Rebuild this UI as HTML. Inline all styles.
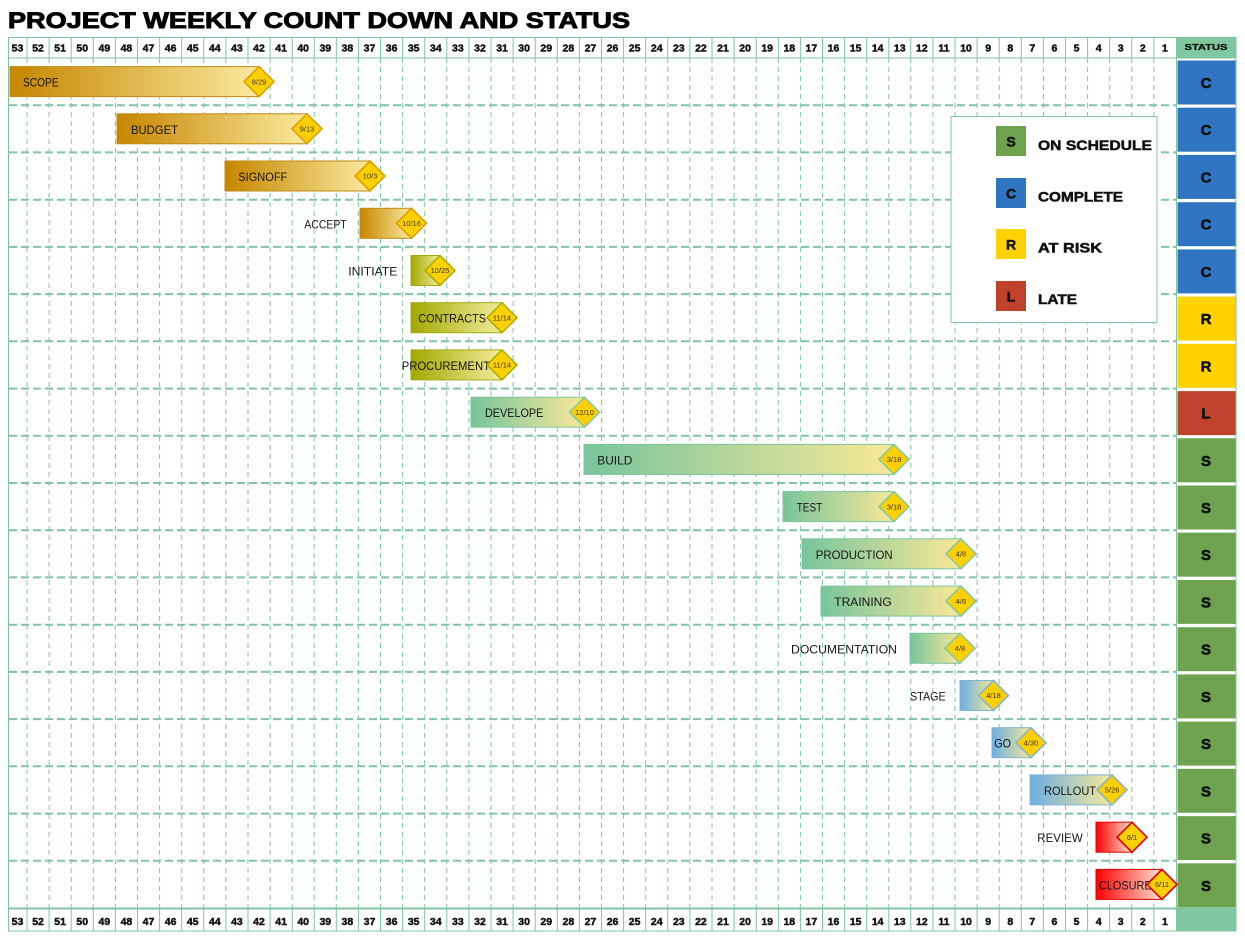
<!DOCTYPE html>
<html>
<head>
<meta charset="utf-8">
<style>
html,body{margin:0;padding:0;background:#fff;}
svg{display:block;}
.hn{font-family:"Liberation Sans",sans-serif;font-weight:bold;font-size:10.5px;fill:#111;stroke:#111;stroke-width:0.45;text-anchor:middle;}
.lb{font-family:"Liberation Sans",sans-serif;font-size:12px;fill:#151515;}
.dt{font-family:"Liberation Sans",sans-serif;font-size:7.5px;fill:#333;text-anchor:middle;}
.st{font-family:"Liberation Sans",sans-serif;font-weight:bold;font-size:15px;fill:#111;stroke:#111;stroke-width:0.6;text-anchor:middle;}
.lg{font-family:"Liberation Sans",sans-serif;font-weight:bold;font-size:14px;fill:#111;stroke:#111;stroke-width:0.5;}
</style>
</head>
<body>
<svg width="1245" height="940" viewBox="0 0 1245 940" xmlns="http://www.w3.org/2000/svg">
<defs>
<linearGradient id="gGold" x1="0" y1="0" x2="1" y2="0"><stop offset="0" stop-color="#c68600"/><stop offset="1" stop-color="#fbe99e"/></linearGradient>
<linearGradient id="gOlive" x1="0" y1="0" x2="1" y2="0"><stop offset="0" stop-color="#a2a800"/><stop offset="1" stop-color="#f4ed9e"/></linearGradient>
<linearGradient id="gGreen" x1="0" y1="0" x2="1" y2="0"><stop offset="0" stop-color="#78c59c"/><stop offset="1" stop-color="#f8e898"/></linearGradient>
<linearGradient id="gBlue" x1="0" y1="0" x2="1" y2="0"><stop offset="0" stop-color="#6caee2"/><stop offset="1" stop-color="#f6e998"/></linearGradient>
<linearGradient id="gRed" x1="0" y1="0" x2="1" y2="0"><stop offset="0" stop-color="#ff0000"/><stop offset="1" stop-color="#ffe2d4"/></linearGradient>
</defs>

<!-- Title -->
<text x="8" y="28" font-family="Liberation Sans, sans-serif" font-weight="bold" font-size="22.5" fill="#000" stroke="#000" stroke-width="0.9" textLength="622" lengthAdjust="spacingAndGlyphs">PROJECT WEEKLY COUNT DOWN AND STATUS</text>

<!-- Status header and footer fills -->
<rect x="1177" y="37.5" width="59" height="20.5" fill="#80c8a0"/>
<rect x="1177" y="909" width="59" height="22" fill="#80c8a0"/>

<!-- Body vertical dashed lines -->
<path fill="none" stroke="#80c4a4" stroke-width="1" stroke-dasharray="5,4" d="M27 58V908 M49.1 58V908 M71.2 58V908 M93.3 58V908 M115.4 58V908 M137.5 58V908 M159.6 58V908 M181.7 58V908 M203.8 58V908 M225.9 58V908 M248 58V908 M270.1 58V908 M292.2 58V908 M314.2 58V908 M336.3 58V908 M358.4 58V908 M380.5 58V908 M402.6 58V908 M424.7 58V908 M446.8 58V908 M468.9 58V908 M491 58V908 M513.1 58V908 M535.2 58V908 M557.3 58V908 M579.4 58V908 M601.5 58V908 M623.6 58V908 M645.7 58V908 M667.8 58V908 M689.9 58V908 M712 58V908 M734.1 58V908 M756.2 58V908 M778.3 58V908 M800.4 58V908 M822.5 58V908 M844.6 58V908 M866.7 58V908 M888.8 58V908 M910.8 58V908 M932.9 58V908 M955 58V908 M977.1 58V908 M999.2 58V908 M1021.3 58V908 M1043.4 58V908 M1065.5 58V908 M1087.6 58V908 M1109.7 58V908 M1131.8 58V908 M1153.9 58V908"/>

<!-- Header vertical solid lines -->
<path fill="none" stroke="#80c4a4" stroke-width="1" d="M27 37.5V58 M49.1 37.5V58 M71.2 37.5V58 M93.3 37.5V58 M115.4 37.5V58 M137.5 37.5V58 M159.6 37.5V58 M181.7 37.5V58 M203.8 37.5V58 M225.9 37.5V58 M248 37.5V58 M270.1 37.5V58 M292.2 37.5V58 M314.2 37.5V58 M336.3 37.5V58 M358.4 37.5V58 M380.5 37.5V58 M402.6 37.5V58 M424.7 37.5V58 M446.8 37.5V58 M468.9 37.5V58 M491 37.5V58 M513.1 37.5V58 M535.2 37.5V58 M557.3 37.5V58 M579.4 37.5V58 M601.5 37.5V58 M623.6 37.5V58 M645.7 37.5V58 M667.8 37.5V58 M689.9 37.5V58 M712 37.5V58 M734.1 37.5V58 M756.2 37.5V58 M778.3 37.5V58 M800.4 37.5V58 M822.5 37.5V58 M844.6 37.5V58 M866.7 37.5V58 M888.8 37.5V58 M910.8 37.5V58 M932.9 37.5V58 M955 37.5V58 M977.1 37.5V58 M999.2 37.5V58 M1021.3 37.5V58 M1043.4 37.5V58 M1065.5 37.5V58 M1087.6 37.5V58 M1109.7 37.5V58 M1131.8 37.5V58 M1153.9 37.5V58
M27 909V931 M49.1 909V931 M71.2 909V931 M93.3 909V931 M115.4 909V931 M137.5 909V931 M159.6 909V931 M181.7 909V931 M203.8 909V931 M225.9 909V931 M248 909V931 M270.1 909V931 M292.2 909V931 M314.2 909V931 M336.3 909V931 M358.4 909V931 M380.5 909V931 M402.6 909V931 M424.7 909V931 M446.8 909V931 M468.9 909V931 M491 909V931 M513.1 909V931 M535.2 909V931 M557.3 909V931 M579.4 909V931 M601.5 909V931 M623.6 909V931 M645.7 909V931 M667.8 909V931 M689.9 909V931 M712 909V931 M734.1 909V931 M756.2 909V931 M778.3 909V931 M800.4 909V931 M822.5 909V931 M844.6 909V931 M866.7 909V931 M888.8 909V931 M910.8 909V931 M932.9 909V931 M955 909V931 M977.1 909V931 M999.2 909V931 M1021.3 909V931 M1043.4 909V931 M1065.5 909V931 M1087.6 909V931 M1109.7 909V931 M1131.8 909V931 M1153.9 909V931
M8.5 37.5V931 M1176.5 37.5V931 M1236 37.5V931
M8 37.5H1236 M8 58H1236 M8 909H1236 M8 931H1236"/>

<!-- Row separators -->
<path fill="none" stroke="#80c4a4" stroke-width="2" stroke-dasharray="8,4" d="M9 105.2H1176 M9 152.4H1176 M9 199.7H1176 M9 246.9H1176 M9 294.1H1176 M9 341.3H1176 M9 388.6H1176 M9 435.8H1176 M9 483H1176 M9 530.2H1176 M9 577.4H1176 M9 624.7H1176 M9 671.9H1176 M9 719.1H1176 M9 766.3H1176 M9 813.6H1176 M9 860.8H1176"/>
<path fill="none" stroke="#80c4a4" stroke-width="1" d="M8 908H1236"/>

<!-- Header numbers top -->
<g class="hn">
<text x="17.5" y="51.5">53</text><text x="38.05" y="51.5">52</text><text x="60.15" y="51.5">51</text><text x="82.24" y="51.5">50</text><text x="104.34" y="51.5">49</text><text x="126.43" y="51.5">48</text><text x="148.53" y="51.5">47</text><text x="170.62" y="51.5">46</text><text x="192.72" y="51.5">45</text><text x="214.81" y="51.5">44</text><text x="236.91" y="51.5">43</text><text x="259.01" y="51.5">42</text><text x="281.1" y="51.5">41</text><text x="303.2" y="51.5">40</text><text x="325.29" y="51.5">39</text><text x="347.39" y="51.5">38</text><text x="369.48" y="51.5">37</text><text x="391.58" y="51.5">36</text><text x="413.68" y="51.5">35</text><text x="435.77" y="51.5">34</text><text x="457.87" y="51.5">33</text><text x="479.96" y="51.5">32</text><text x="502.06" y="51.5">31</text><text x="524.15" y="51.5">30</text><text x="546.25" y="51.5">29</text><text x="568.34" y="51.5">28</text><text x="590.44" y="51.5">27</text><text x="612.54" y="51.5">26</text><text x="634.63" y="51.5">25</text><text x="656.73" y="51.5">24</text><text x="678.82" y="51.5">23</text><text x="700.92" y="51.5">22</text><text x="723.01" y="51.5">21</text><text x="745.11" y="51.5">20</text><text x="767.2" y="51.5">19</text><text x="789.3" y="51.5">18</text><text x="811.4" y="51.5">17</text><text x="833.49" y="51.5">16</text><text x="855.59" y="51.5">15</text><text x="877.68" y="51.5">14</text><text x="899.78" y="51.5">13</text><text x="921.87" y="51.5">12</text><text x="943.97" y="51.5">11</text><text x="966.06" y="51.5">10</text><text x="988.16" y="51.5">9</text><text x="1010.26" y="51.5">8</text><text x="1032.35" y="51.5">7</text><text x="1054.45" y="51.5">6</text><text x="1076.54" y="51.5">5</text><text x="1098.64" y="51.5">4</text><text x="1120.73" y="51.5">3</text><text x="1142.83" y="51.5">2</text><text x="1164.92" y="51.5">1</text>
</g>
<!-- Header numbers bottom -->
<g class="hn">
<text x="17.5" y="925">53</text><text x="38.05" y="925">52</text><text x="60.15" y="925">51</text><text x="82.24" y="925">50</text><text x="104.34" y="925">49</text><text x="126.43" y="925">48</text><text x="148.53" y="925">47</text><text x="170.62" y="925">46</text><text x="192.72" y="925">45</text><text x="214.81" y="925">44</text><text x="236.91" y="925">43</text><text x="259.01" y="925">42</text><text x="281.1" y="925">41</text><text x="303.2" y="925">40</text><text x="325.29" y="925">39</text><text x="347.39" y="925">38</text><text x="369.48" y="925">37</text><text x="391.58" y="925">36</text><text x="413.68" y="925">35</text><text x="435.77" y="925">34</text><text x="457.87" y="925">33</text><text x="479.96" y="925">32</text><text x="502.06" y="925">31</text><text x="524.15" y="925">30</text><text x="546.25" y="925">29</text><text x="568.34" y="925">28</text><text x="590.44" y="925">27</text><text x="612.54" y="925">26</text><text x="634.63" y="925">25</text><text x="656.73" y="925">24</text><text x="678.82" y="925">23</text><text x="700.92" y="925">22</text><text x="723.01" y="925">21</text><text x="745.11" y="925">20</text><text x="767.2" y="925">19</text><text x="789.3" y="925">18</text><text x="811.4" y="925">17</text><text x="833.49" y="925">16</text><text x="855.59" y="925">15</text><text x="877.68" y="925">14</text><text x="899.78" y="925">13</text><text x="921.87" y="925">12</text><text x="943.97" y="925">11</text><text x="966.06" y="925">10</text><text x="988.16" y="925">9</text><text x="1010.26" y="925">8</text><text x="1032.35" y="925">7</text><text x="1054.45" y="925">6</text><text x="1076.54" y="925">5</text><text x="1098.64" y="925">4</text><text x="1120.73" y="925">3</text><text x="1142.83" y="925">2</text><text x="1164.92" y="925">1</text>
</g>
<text x="1206" y="50" font-family="Liberation Sans, sans-serif" font-weight="bold" font-size="8.5" fill="#111" stroke="#111" stroke-width="0.3" text-anchor="middle" textLength="43" lengthAdjust="spacingAndGlyphs">STATUS</text>

<!-- Status blocks -->
<g>
<rect x="1177.5" y="60.5" width="58" height="44" fill="#2f75c1"/>
<rect x="1177.5" y="107.7" width="58" height="44" fill="#2f75c1"/>
<rect x="1177.5" y="154.9" width="58" height="44" fill="#2f75c1"/>
<rect x="1177.5" y="202.2" width="58" height="44" fill="#2f75c1"/>
<rect x="1177.5" y="249.4" width="58" height="44" fill="#2f75c1"/>
<rect x="1177.5" y="296.6" width="58" height="44" fill="#ffd200"/>
<rect x="1177.5" y="343.8" width="58" height="44" fill="#ffd200"/>
<rect x="1177.5" y="391.1" width="58" height="44" fill="#c0412c"/>
<rect x="1177.5" y="438.3" width="58" height="44" fill="#6fa24f"/>
<rect x="1177.5" y="485.5" width="58" height="44" fill="#6fa24f"/>
<rect x="1177.5" y="532.7" width="58" height="44" fill="#6fa24f"/>
<rect x="1177.5" y="579.9" width="58" height="44" fill="#6fa24f"/>
<rect x="1177.5" y="627.2" width="58" height="44" fill="#6fa24f"/>
<rect x="1177.5" y="674.4" width="58" height="44" fill="#6fa24f"/>
<rect x="1177.5" y="721.6" width="58" height="44" fill="#6fa24f"/>
<rect x="1177.5" y="768.8" width="58" height="44" fill="#6fa24f"/>
<rect x="1177.5" y="816.1" width="58" height="44" fill="#6fa24f"/>
<rect x="1177.5" y="863.3" width="58" height="44" fill="#6fa24f"/>
</g>
<g class="st">
<text x="1206" y="88">C</text>
<text x="1206" y="135.2">C</text>
<text x="1206" y="182.4">C</text>
<text x="1206" y="229.7">C</text>
<text x="1206" y="276.9">C</text>
<text x="1206" y="324.1">R</text>
<text x="1206" y="371.3">R</text>
<text x="1206" y="418.6">L</text>
<text x="1206" y="465.8">S</text>
<text x="1206" y="513">S</text>
<text x="1206" y="560.2">S</text>
<text x="1206" y="607.4">S</text>
<text x="1206" y="654.7">S</text>
<text x="1206" y="701.9">S</text>
<text x="1206" y="749.1">S</text>
<text x="1206" y="796.3">S</text>
<text x="1206" y="843.6">S</text>
<text x="1206" y="890.8">S</text>
</g>

<!-- Legend -->
<rect x="951" y="116.5" width="206" height="206" fill="#fff" stroke="#80c4a4" stroke-width="1"/>
<rect x="996" y="126" width="30" height="30" fill="#6fa24f"/>
<rect x="996" y="178" width="30" height="30" fill="#2f75c1"/>
<rect x="996" y="229" width="30" height="30" fill="#ffd200"/>
<rect x="996" y="281" width="30" height="30" fill="#c0412c"/>
<g class="lg" text-anchor="middle">
<text x="1011" y="146.5">S</text>
<text x="1011" y="198.5">C</text>
<text x="1011" y="249.5">R</text>
<text x="1011" y="301.5">L</text>
</g>
<g class="lg">
<text x="1038" y="150" textLength="114" lengthAdjust="spacingAndGlyphs">ON SCHEDULE</text>
<text x="1038" y="201.7" textLength="85" lengthAdjust="spacingAndGlyphs">COMPLETE</text>
<text x="1038" y="252.7" textLength="64" lengthAdjust="spacingAndGlyphs">AT RISK</text>
<text x="1038" y="304" textLength="39" lengthAdjust="spacingAndGlyphs">LATE</text>
</g>

<!-- Bars -->
<g stroke-width="1">
<rect x="10" y="66.6" width="249" height="30" fill="url(#gGold)" stroke="#c08a10"/>
<rect x="117" y="113.8" width="190" height="30" fill="url(#gGold)" stroke="#c08a10"/>
<rect x="225" y="161" width="145" height="30" fill="url(#gGold)" stroke="#c08a10"/>
<rect x="360" y="208.3" width="51.5" height="30" fill="url(#gGold)" stroke="#c08a10"/>
<rect x="411" y="255.5" width="29" height="30" fill="url(#gOlive)" stroke="#a2aa10"/>
<rect x="411" y="302.7" width="91" height="30" fill="url(#gOlive)" stroke="#a2aa10"/>
<rect x="411" y="349.9" width="91" height="30" fill="url(#gOlive)" stroke="#a2aa10"/>
<rect x="471" y="397.2" width="113.5" height="30" fill="url(#gGreen)" stroke="#7cc49c"/>
<rect x="584" y="444.4" width="310" height="30" fill="url(#gGreen)" stroke="#7cc49c"/>
<rect x="783" y="491.6" width="111" height="30" fill="url(#gGreen)" stroke="#7cc49c"/>
<rect x="802" y="538.8" width="159" height="30" fill="url(#gGreen)" stroke="#7cc49c"/>
<rect x="821" y="586.1" width="140" height="30" fill="url(#gGreen)" stroke="#7cc49c"/>
<rect x="910" y="633.3" width="50" height="30" fill="url(#gGreen)" stroke="#7cc49c"/>
<rect x="960" y="680.5" width="33.5" height="30" fill="url(#gBlue)" stroke="#80b4d8"/>
<rect x="992" y="727.7" width="39" height="30" fill="url(#gBlue)" stroke="#80b4d8"/>
<rect x="1030" y="774.9" width="82" height="30" fill="url(#gBlue)" stroke="#80b4d8"/>
<rect x="1096" y="822.2" width="36" height="30" fill="url(#gRed)" stroke="#e00000"/>
<rect x="1096" y="869.4" width="66" height="30" fill="url(#gRed)" stroke="#e00000"/>
</g>

<!-- Labels -->
<g class="lb">
<text x="23" y="86.6" textLength="35.6" lengthAdjust="spacingAndGlyphs">SCOPE</text>
<text x="131" y="133.8" textLength="47" lengthAdjust="spacingAndGlyphs">BUDGET</text>
<text x="238.3" y="181" textLength="49" lengthAdjust="spacingAndGlyphs">SIGNOFF</text>
<text x="304.3" y="228.3" textLength="42.4" lengthAdjust="spacingAndGlyphs">ACCEPT</text>
<text x="348.3" y="275.5" textLength="49" lengthAdjust="spacingAndGlyphs">INITIATE</text>
<text x="418.3" y="322.7" textLength="67.7" lengthAdjust="spacingAndGlyphs">CONTRACTS</text>
<text x="401.7" y="369.9" textLength="88.3" lengthAdjust="spacingAndGlyphs">PROCUREMENT</text>
<text x="485" y="417.2" textLength="58.3" lengthAdjust="spacingAndGlyphs">DEVELOPE</text>
<text x="597.3" y="464.4" textLength="35" lengthAdjust="spacingAndGlyphs">BUILD</text>
<text x="796.7" y="511.6" textLength="25.6" lengthAdjust="spacingAndGlyphs">TEST</text>
<text x="815.7" y="558.8" textLength="77" lengthAdjust="spacingAndGlyphs">PRODUCTION</text>
<text x="834.3" y="606.1" textLength="57.4" lengthAdjust="spacingAndGlyphs">TRAINING</text>
<text x="791" y="653.3" textLength="106" lengthAdjust="spacingAndGlyphs">DOCUMENTATION</text>
<text x="910" y="700.5" textLength="35.7" lengthAdjust="spacingAndGlyphs">STAGE</text>
<text x="994.3" y="747.7" textLength="16.7" lengthAdjust="spacingAndGlyphs">GO</text>
<text x="1044" y="794.9" textLength="52" lengthAdjust="spacingAndGlyphs">ROLLOUT</text>
<text x="1037.3" y="842.2" textLength="45.4" lengthAdjust="spacingAndGlyphs">REVIEW</text>
<text x="1099" y="889.4" textLength="52.7" lengthAdjust="spacingAndGlyphs">CLOSURE</text>
</g>

<!-- Diamonds -->
<g stroke-width="1.6" fill="#ffd000">
<polygon points="259,66.6 274,81.6 259,96.6 244,81.6" stroke="#d9a000"/>
<polygon points="307,113.8 322,128.8 307,143.8 292,128.8" stroke="#d9a000"/>
<polygon points="370,161 385,176 370,191 355,176" stroke="#d9a000"/>
<polygon points="411.5,208.3 426.5,223.3 411.5,238.3 396.5,223.3" stroke="#d9a000"/>
<polygon points="440,255.5 455,270.5 440,285.5 425,270.5" stroke="#a8b000"/>
<polygon points="502,302.7 517,317.7 502,332.7 487,317.7" stroke="#a8b000"/>
<polygon points="502,349.9 517,364.9 502,379.9 487,364.9" stroke="#a8b000"/>
<polygon points="584.5,397.2 599.5,412.2 584.5,427.2 569.5,412.2" stroke="#84c8a4"/>
<polygon points="894,444.4 909,459.4 894,474.4 879,459.4" stroke="#84c8a4"/>
<polygon points="894,491.6 909,506.6 894,521.6 879,506.6" stroke="#84c8a4"/>
<polygon points="961,538.8 976,553.8 961,568.8 946,553.8" stroke="#84c8a4"/>
<polygon points="961,586.1 976,601.1 961,616.1 946,601.1" stroke="#84c8a4"/>
<polygon points="960,633.3 975,648.3 960,663.3 945,648.3" stroke="#84c8a4"/>
<polygon points="993.5,680.5 1008.5,695.5 993.5,710.5 978.5,695.5" stroke="#88b4cc"/>
<polygon points="1031,727.7 1046,742.7 1031,757.7 1016,742.7" stroke="#88b4cc"/>
<polygon points="1112,774.9 1127,789.9 1112,804.9 1097,789.9" stroke="#88b4cc"/>
<polygon points="1132,822.2 1147,837.2 1132,852.2 1117,837.2" stroke="#e00000"/>
<polygon points="1162,869.4 1177,884.4 1162,899.4 1147,884.4" stroke="#e00000"/>
</g>
<g class="dt">
<text x="259" y="84.3">8/29</text>
<text x="307" y="131.5">9/13</text>
<text x="370" y="178.7">10/3</text>
<text x="411.5" y="226">10/16</text>
<text x="440" y="273.2">10/25</text>
<text x="502" y="320.4">11/14</text>
<text x="502" y="367.6">11/14</text>
<text x="584.5" y="414.9">12/10</text>
<text x="894" y="462.1">3/18</text>
<text x="894" y="509.3">3/18</text>
<text x="961" y="556.5">4/8</text>
<text x="961" y="603.8">4/8</text>
<text x="960" y="651">4/8</text>
<text x="993.5" y="698.2">4/18</text>
<text x="1031" y="745.4">4/30</text>
<text x="1112" y="792.6">5/26</text>
<text x="1132" y="839.9">6/1</text>
<text x="1162" y="887.1">6/11</text>
</g>
</svg>
</body>
</html>
